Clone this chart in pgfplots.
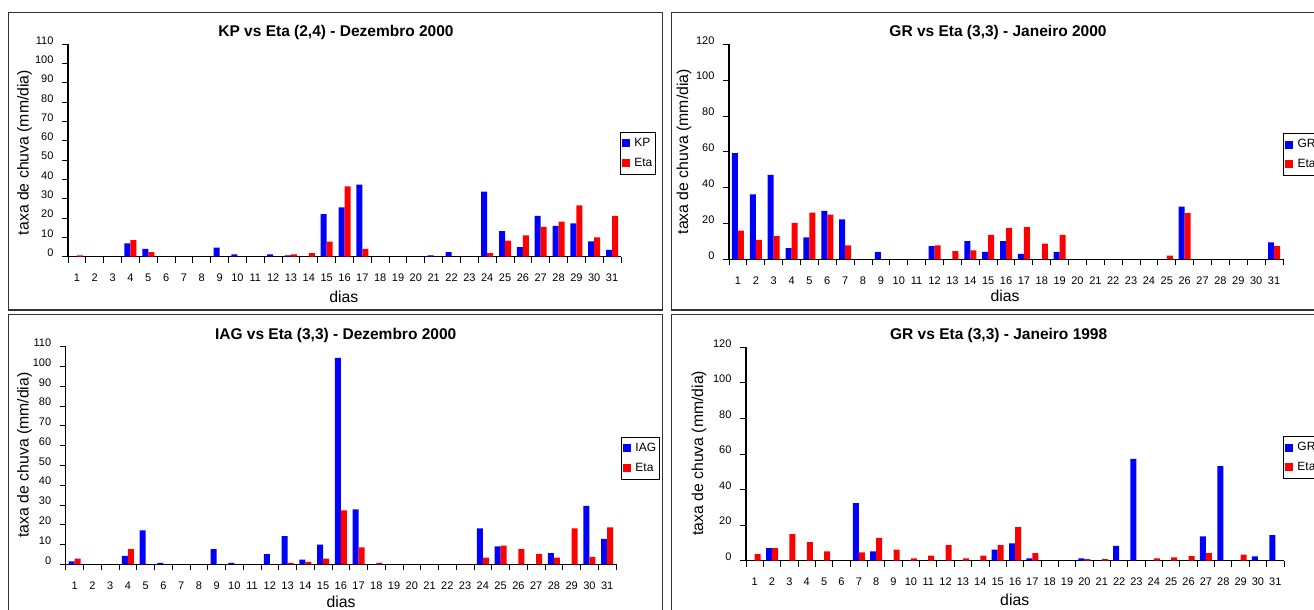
\documentclass[border=0pt]{standalone}
\usepackage{pgfplots}
\pgfplotsset{compat=1.18}
\usepackage{fontspec}
\setmainfont{Liberation Sans}
\definecolor{frm}{gray}{0.2}
\pgfplotsset{
  panel/.style={
    scale only axis,
    axis x line=bottom, axis y line=left,
    axis line style={-, line width=1.1pt, black},
    ybar=0pt, bar width=6pt,
    xmin=0.5, xmax=31.5, ymin=0,
    xtick={1,...,31},
    minor xtick={0.5,1.5,...,31.5},
    tick align=outside,
    major tick length=0pt, minor tick length=6pt,
    tick style={black, line width=0.9pt},
    tick label style={font=\fontsize{11}{13}\selectfont},
    /pgf/number format/assume math mode=true,
    xticklabel style={yshift=-14pt},
    yticklabel style={yshift=4pt, xshift=-11pt},
    legend style={font=\fontsize{12}{14}\selectfont, draw=black, line width=1pt,
      anchor=north west, inner xsep=1.5pt, inner ysep=4pt, row sep=6pt,
      legend cell align=left,
      /tikz/every odd column/.append style={column sep=2.5pt}},
    legend image code/.code={\fill[#1] (0pt,-4pt) rectangle (8pt,4pt);},
  },
  gseries/.style={fill=blue, draw=none},
  rseries/.style={fill=red, draw=none},
}
\begin{document}
\begin{tikzpicture}
\useasboundingbox (0pt,0pt) rectangle (1314pt,610pt);
\clip (0pt,0pt) rectangle (1314pt,610pt);
\fill[white] (0pt,0pt) rectangle (1314pt,610pt);
% frames
\draw[frm, line width=1.5pt] (8.3pt,300pt) rectangle (662.3pt,597.7pt);
\draw[frm, line width=1.5pt] (671.7pt,300pt) rectangle (1340pt,597.7pt);
\draw[frm, line width=1.5pt] (8.3pt,-10pt) rectangle (662.3pt,295.7pt);
\draw[frm, line width=1.5pt] (671.7pt,-10pt) rectangle (1340pt,295.7pt);

% Panel 1
\begin{axis}[panel, at={(68pt,353.3pt)}, anchor=south west, width=553pt, height=212.4pt,
  ymax=110, ytick={0,10,...,110}, minor ytick={0,10,...,110},
  legend style={at={(0.998,0.587)}}]
\addplot[gseries] coordinates {(4,6.9) (5,4.1) (9,4.7) (10,1.2) (12,1.2) (13,0.7) (15,22.1) (16,25.6) (17,37.3) (21,0.7) (22,2.4) (24,33.7) (25,13.3) (26,5.0) (27,21.1) (28,15.9) (29,17.3) (30,7.9) (31,3.5)};
\addplot[rseries] coordinates {(1,0.7) (4,8.6) (5,2.4) (13,1.2) (14,1.9) (15,7.8) (16,36.4) (17,4.1) (24,1.9) (25,8.3) (26,11.1) (27,15.4) (28,18.1) (29,26.6) (30,10.0) (31,21.1)};
\legend{KP,Eta}
\end{axis}

% Panel 2
\begin{axis}[panel, at={(729pt,350.7pt)}, anchor=south west, width=554pt, height=215pt,
  ymax=120, ytick={0,20,...,120}, minor ytick={0,20,...,120},
  legend style={at={(1.0,0.587)}}]
\addplot[gseries] coordinates {(1,59.2) (2,36.3) (3,47.1) (4,6.3) (5,12.3) (6,27.0) (7,22.3) (9,4.1) (12,7.4) (14,10.2) (15,4.1) (16,10.2) (17,3.0) (19,4.1) (26,29.4) (31,9.5)};
\addplot[rseries] coordinates {(1,16.0) (2,10.8) (3,13.0) (4,20.3) (5,26.0) (6,24.9) (7,7.8) (12,7.8) (13,4.5) (14,5.0) (15,13.6) (16,17.5) (17,18.0) (18,8.7) (19,13.6) (25,2.0) (26,25.7) (31,7.4)};
\legend{GR,Eta}
\end{axis}

% Panel 3
\begin{axis}[panel, at={(65.7pt,45.7pt)}, anchor=south west, width=550.3pt, height=217.6pt,
  ymax=110, ytick={0,10,...,110}, minor ytick={0,10,...,110},
  legend style={at={(1.009,0.585)}}]
\addplot[gseries] coordinates {(1,1.5) (4,4.2) (5,17.2) (6,0.7) (9,7.7) (10,0.7) (12,5.1) (13,14.3) (14,2.4) (15,9.9) (16,104.4) (17,27.8) (24,18.2) (25,9.1) (28,5.6) (30,29.5) (31,12.8)};
\addplot[rseries] coordinates {(1,2.9) (4,7.7) (13,0.7) (14,1.2) (15,2.9) (16,27.3) (17,8.6) (18,0.7) (24,3.4) (25,9.4) (26,7.7) (27,5.1) (28,3.4) (29,18.2) (30,3.7) (31,18.7)};
\legend{IAG,Eta}
\end{axis}

% Panel 4
\begin{axis}[panel, at={(746pt,49.3pt)}, anchor=south west, width=538pt, height=213.4pt,
  ymax=120, ytick={0,20,...,120}, minor ytick={0,20,...,120},
  legend style={at={(0.998,0.584)}}]
\addplot[gseries] coordinates {(2,7.1) (7,32.4) (8,5.25) (15,6.2) (16,9.75) (17,1.3) (20,1.3) (22,8.4) (23,57.2) (27,13.7) (28,53.25) (30,2.4) (31,14.4)};
\addplot[rseries] coordinates {(1,3.75) (2,7.1) (3,15.0) (4,10.5) (5,5.25) (7,4.7) (8,12.9) (9,6.2) (10,1.3) (11,2.8) (12,8.8) (13,1.3) (14,2.8) (15,8.8) (16,18.9) (17,4.3) (20,0.9) (21,0.9) (24,1.3) (25,1.9) (26,2.6) (27,4.3) (29,3.4)};
\legend{GR,Eta}
\end{axis}

% titles
\begin{scope}[font=\bfseries\fontsize{15.5}{18}\selectfont]
\node at (336pt,577.7pt) {KP vs Eta (2,4) - Dezembro 2000};
\node at (998pt,577.7pt) {GR vs Eta (3,3) - Janeiro 2000};
\node at (335.7pt,275pt) {IAG vs Eta (3,3) - Dezembro 2000};
\node at (998.7pt,275pt) {GR vs Eta (3,3) - Janeiro 1998};
\end{scope}
% axis labels
\begin{scope}[font=\fontsize{15.8}{18}\selectfont]
\node[rotate=90] at (24.5pt,457.5pt) {taxa de chuva (mm/dia)};
\node[rotate=90] at (684pt,458.3pt) {taxa de chuva (mm/dia)};
\node[rotate=90] at (24.5pt,155pt) {taxa de chuva (mm/dia)};
\node[rotate=90] at (699pt,156.7pt) {taxa de chuva (mm/dia)};
\node at (343.8pt,313.5pt) {dias};
\node at (1005pt,314.5pt) {dias};
\node at (341pt,8.3pt) {dias};
\node at (1014.7pt,10pt) {dias};
\end{scope}
\end{tikzpicture}
\end{document}
